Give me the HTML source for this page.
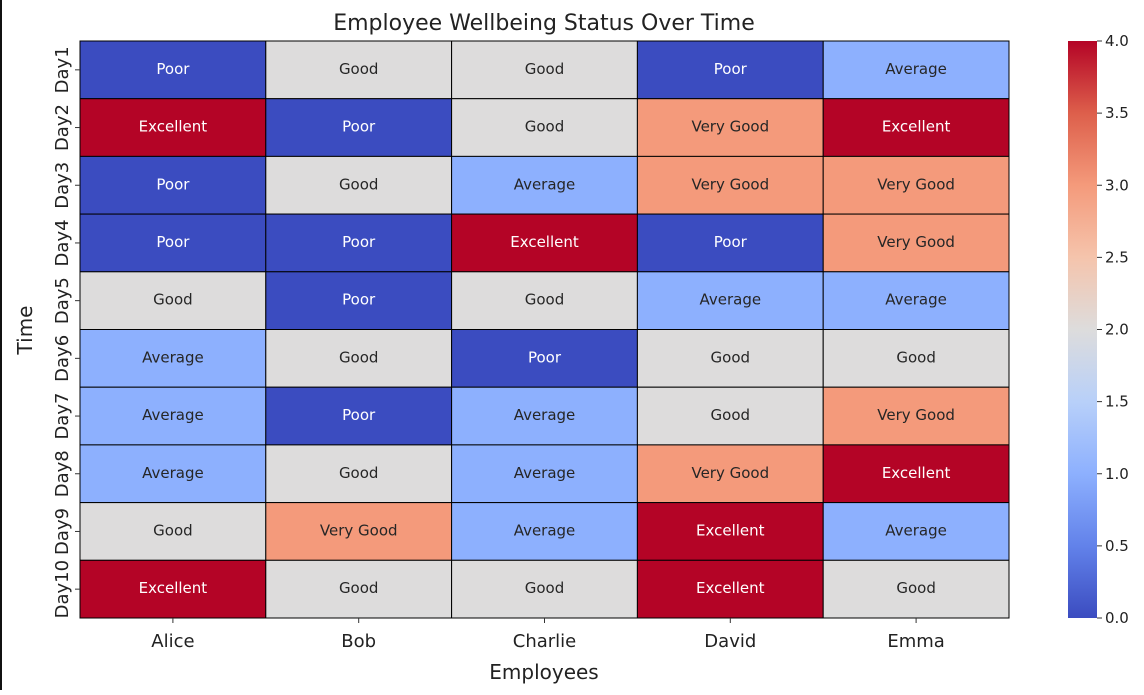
<!DOCTYPE html>
<html><head><meta charset="utf-8"><style>
body{margin:0;background:#fff;}
svg{font-family:"DejaVu Sans","Liberation Sans",sans-serif;}
</style></head><body>
<svg id="c" width="1144" height="690">
<defs><linearGradient id="cw" x1="0" y1="1" x2="0" y2="0">
<stop offset="0" stop-color="#3b4cc0"/><stop offset="0.125" stop-color="#6282ea"/>
<stop offset="0.25" stop-color="#8db0fe"/><stop offset="0.375" stop-color="#b8d0f9"/>
<stop offset="0.5" stop-color="#dddcdc"/><stop offset="0.625" stop-color="#f5c4ac"/>
<stop offset="0.75" stop-color="#f49a7b"/><stop offset="0.875" stop-color="#dd5f4b"/>
<stop offset="1" stop-color="#b40426"/></linearGradient></defs>
<rect x="0" y="0" width="2" height="690" fill="#111"/>
<text x="544" y="30" font-size="22" text-anchor="middle" fill="#222">Employee Wellbeing Status Over Time</text>
<g id="cells"></g>
<rect x="1068" y="41" width="29" height="577" fill="url(#cw)"/>
<g id="cb"></g>
<text x="544" y="679" font-size="20" text-anchor="middle" fill="#222">Employees</text>
<text transform="translate(32,330) rotate(-90)" font-size="20" text-anchor="middle" fill="#222">Time</text>
</svg>
<script>
const employees=["Alice","Bob","Charlie","David","Emma"];
const days=["Day1","Day2","Day3","Day4","Day5","Day6","Day7","Day8","Day9","Day10"];
const values=[[0,2,2,0,1],[4,0,2,3,4],[0,2,1,3,3],[0,0,4,0,3],[2,0,2,1,1],[1,2,0,2,2],[1,0,1,2,3],[1,2,1,3,4],[2,3,1,4,1],[4,2,2,4,2]];
const labels=["Poor","Average","Good","Very Good","Excellent"];
const cbTicks=[0,0.5,1,1.5,2,2.5,3,3.5,4];
const colors=["#3b4cc0","#8db0fe","#dddcdc","#f49a7b","#b40426"];
const NS="http://www.w3.org/2000/svg";
const X0=80,Y0=41,W=929,H=577;
const cw=W/employees.length,ch=H/days.length;
const g=document.getElementById('cells');
function mk(t,a,p){const e=document.createElementNS(NS,t);for(const k in a)e.setAttribute(k,a[k]);(p||g).appendChild(e);return e;}
values.forEach((row,i)=>row.forEach((v,j)=>{
 const r=mk('rect',{x:X0+j*cw,y:Y0+i*ch,width:cw,height:ch,fill:colors[v],stroke:'#000','stroke-width':1});
 
 
 const t=mk('text',{x:X0+(j+.5)*cw,y:Y0+(i+.5)*ch+4,'font-size':15,'text-anchor':'middle',fill:(v==0||v==4)?'#fff':'#262626'});
 t.textContent=labels[v];
 
 
}));
employees.forEach((n,j)=>{
 const x=X0+(j+.5)*cw;
 mk('line',{x1:x,x2:x,y1:Y0+H,y2:Y0+H+5,stroke:'#333'});
 const t=mk('text',{x:x,y:647,'font-size':18,'text-anchor':'middle',fill:'#222'});t.textContent=n;
 
 
});
days.forEach((d,i)=>{
 const y=Y0+(i+.5)*ch;
 mk('line',{x1:X0-5,x2:X0,y1:y,y2:y,stroke:'#333'});
 const t=mk('text',{transform:`translate(68,${y}) rotate(-90)`,'font-size':18,'text-anchor':'middle',fill:'#222'});t.textContent=d;
 
 
});
const cb=document.getElementById('cb');
cbTicks.forEach(v=>{
 const y=618-v/4*577;
 mk('line',{x1:1097,x2:1102,y1:y,y2:y,stroke:'#333'},cb);
 const t=mk('text',{x:1105,y:y+5,'font-size':15,fill:'#222'},cb);t.textContent=v.toFixed(1);
 
 
});
</script>
</body></html>
